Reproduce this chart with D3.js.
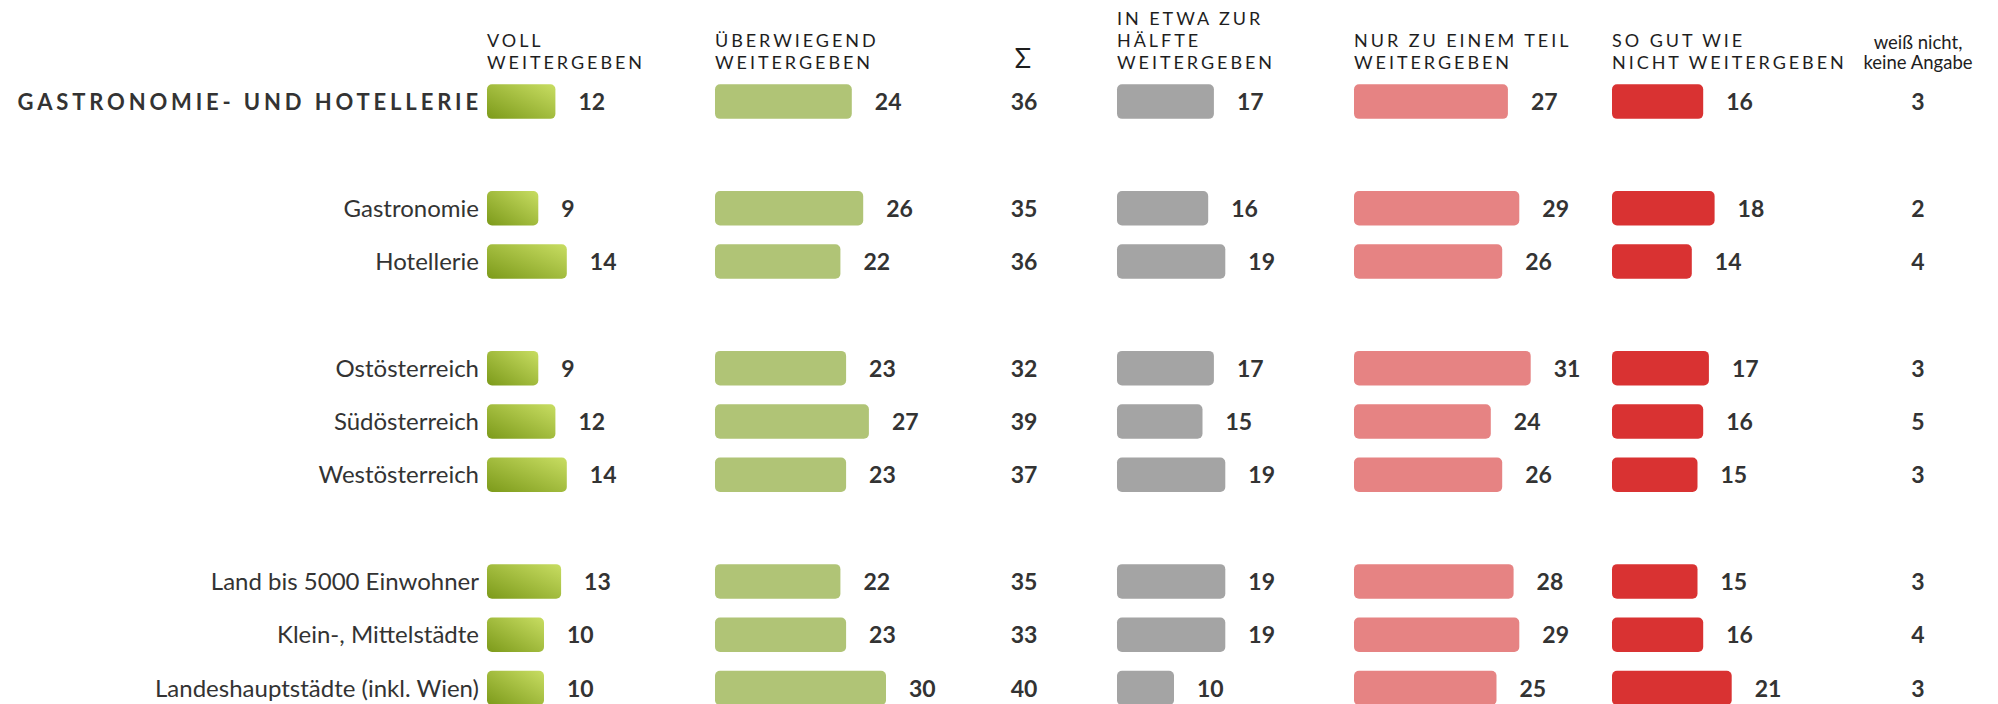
<!DOCTYPE html>
<html>
<head>
<meta charset="utf-8">
<script src="https://cdn.jsdelivr.net/npm/d3@7"></script>
<style>
  html, body { margin: 0; padding: 0; background: #fff; }
  svg { display: block; font-family: Lato, "Open Sans", sans-serif; }
</style>
</head>
<body>
<svg id="chart" width="1998" height="704"></svg>
<script>
// ---------- data ----------
const categories = [
  "GASTRONOMIE- UND HOTELLERIE",
  "Gastronomie",
  "Hotellerie",
  "Ostösterreich",
  "Südösterreich",
  "Westösterreich",
  "Land bis 5000 Einwohner",
  "Klein-, Mittelstädte",
  "Landeshauptstädte (inkl. Wien)"
];
const rowSlots = [0, 2, 3, 5, 6, 7, 9, 10, 11];
const voll         = [12, 9, 14, 9, 12, 14, 13, 10, 10];
const ueberwiegend = [24, 26, 22, 23, 27, 23, 22, 23, 30];
const summe        = [36, 35, 36, 32, 39, 37, 35, 33, 40];
const haelfte      = [17, 16, 19, 17, 15, 19, 19, 19, 10];
const teil         = [27, 29, 26, 31, 24, 26, 28, 29, 25];
const nicht        = [16, 18, 14, 17, 16, 15, 15, 16, 21];
const weissNicht   = [3, 2, 4, 3, 5, 3, 3, 4, 3];

const headVoll = ["VOLL", "WEITERGEBEN"];
const headUeber = ["ÜBERWIEGEND", "WEITERGEBEN"];
const headSumme = "Σ";
const headHaelfte = ["IN ETWA ZUR", "HÄLFTE", "WEITERGEBEN"];
const headTeil = ["NUR ZU EINEM TEIL", "WEITERGEBEN"];
const headNicht = ["SO GUT WIE", "NICHT WEITERGEBEN"];
const headWeiss = ["weiß nicht,", "keine Angabe"];

// ---------- layout ----------
const svg = d3.select("#chart");
const x = d3.scaleLinear().domain([0, 100]).range([0, 570]);
const y = d3.scaleLinear().domain([0, 11]).range([101.6, 688]);
const barH = 34.5;
const textColor = "#333333";

const defs = svg.append("defs");
const grad = defs.append("linearGradient")
  .attr("id", "gVoll")
  .attr("x1", 0).attr("y1", 1).attr("x2", 1).attr("y2", 0);
grad.append("stop").attr("offset", "0%").attr("stop-color", "#7c9a1a");
grad.append("stop").attr("offset", "100%").attr("stop-color", "#c8dd62");

const barCols = [
  { values: voll,         x0: 487,  fill: "url(#gVoll)", head: headVoll },
  { values: ueberwiegend, x0: 715,  fill: "#b0c476",     head: headUeber },
  { values: haelfte,      x0: 1117, fill: "#a4a4a4",     head: headHaelfte },
  { values: teil,         x0: 1354, fill: "#e68383",     head: headTeil },
  { values: nicht,        x0: 1612, fill: "#d93232",     head: headNicht }
];

const lastHeadBase = 68.5;
const headLine = 21.8;

barCols.forEach(col => {
  const g = svg.append("g");
  const n = col.head.length;
  g.selectAll("text.head").data(col.head).enter().append("text")
    .attr("class", "head")
    .attr("x", col.x0)
    .attr("y", (d, i) => lastHeadBase - (n - 1 - i) * headLine)
    .attr("font-size", 18)
    .attr("letter-spacing", "2.95px")
    .attr("fill", "#1e1e1e")
    .text(d => d);
  g.selectAll("rect").data(col.values).enter().append("rect")
    .attr("x", col.x0)
    .attr("y", (d, i) => y(rowSlots[i]) - barH / 2)
    .attr("width", d => x(d))
    .attr("height", barH)
    .attr("rx", 5).attr("ry", 5)
    .attr("fill", col.fill);
  g.selectAll("text.val").data(col.values).enter().append("text")
    .attr("class", "val")
    .attr("x", d => col.x0 + x(d) + 23)
    .attr("y", (d, i) => y(rowSlots[i]) + 8.5)
    .attr("font-size", 23)
    .attr("font-weight", 700)
    .attr("fill", textColor)
    .text(d => d);
});

// Sigma column
svg.append("text")
  .attr("x", 1023).attr("y", 68)
  .attr("text-anchor", "middle")
  .attr("font-size", 27)
  .attr("fill", "#1e1e1e")
  .text(headSumme);
svg.append("g").selectAll("text").data(summe).enter().append("text")
  .attr("x", 1024)
  .attr("y", (d, i) => y(rowSlots[i]) + 8.5)
  .attr("text-anchor", "middle")
  .attr("font-size", 23)
  .attr("font-weight", 700)
  .attr("fill", textColor)
  .text(d => d);

// weiß nicht column
svg.append("g").selectAll("text").data(headWeiss).enter().append("text")
  .attr("x", 1918)
  .attr("y", (d, i) => 49 + i * 19.5)
  .attr("text-anchor", "middle")
  .attr("font-size", 18.5)
  .attr("fill", "#1e1e1e")
  .text(d => d);
svg.append("g").selectAll("text").data(weissNicht).enter().append("text")
  .attr("x", 1918)
  .attr("y", (d, i) => y(rowSlots[i]) + 8.5)
  .attr("text-anchor", "middle")
  .attr("font-size", 23)
  .attr("font-weight", 700)
  .attr("fill", textColor)
  .text(d => d);

// row labels
svg.append("g").selectAll("text").data(categories).enter().append("text")
  .attr("x", (d, i) => i === 0 ? 482 : 479)
  .attr("y", (d, i) => y(rowSlots[i]) + (i === 0 ? 8 : 8.5))
  .attr("text-anchor", "end")
  .attr("font-size", (d, i) => i === 0 ? 22 : 24)
  .attr("font-weight", (d, i) => i === 0 ? 700 : 400)
  .attr("letter-spacing", (d, i) => i === 0 ? "3.85px" : null)
  .attr("fill", textColor)
  .text(d => d);
</script>
</body>
</html>
